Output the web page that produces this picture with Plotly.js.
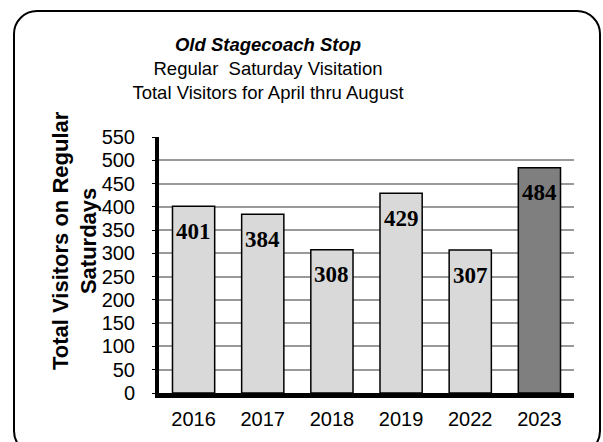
<!DOCTYPE html>
<html>
<head>
<meta charset="utf-8">
<script src="https://cdn.plot.ly/plotly-3.0.1.min.js"></script>
<style>
  html, body { margin: 0; padding: 0; background: #fff; }
  #wrap { position: relative; width: 603px; height: 442px; overflow: hidden; }
  #frame { position: absolute; left: 13px; top: 10px; width: 588px; height: 445px;
           border: 2.5px solid #000; border-radius: 24px; box-sizing: border-box; }
  #chart { position: absolute; left: 0; top: 0; width: 603px; height: 442px; }
</style>
</head>
<body>
<div id="wrap">
  <div id="frame"></div>
  <div id="chart"></div>
</div>
<script>
const categories = ['2016', '2017', '2018', '2019', '2022', '2023'];
const visitors = [401, 384, 308, 429, 307, 484];
const barColors = ['#d9d9d9', '#d9d9d9', '#d9d9d9', '#d9d9d9', '#d9d9d9', '#7f7f7f'];
const yTicks = [0, 50, 100, 150, 200, 250, 300, 350, 400, 450, 500, 550];
const yAxisTitle = '<b>Total Visitors on Regular<br>Saturdays</b>';

const trace = {
  type: 'bar',
  x: categories,
  y: visitors,
  marker: { color: barColors, line: { color: '#000', width: 1.5 } },
  width: 0.61,
  hoverinfo: 'x+y'
};

const annotations = categories.map((c, i) => ({
  x: i, y: visitors[i], xref: 'x', yref: 'y',
  text: String(visitors[i]),
  showarrow: false, yanchor: 'middle', yshift: -25,
  font: { family: 'Liberation Serif, Times New Roman, serif', size: 23, color: '#000', weight: 'bold' }
}));

annotations.push({
  xref: 'paper', yref: 'paper', x: -0.204, y: 0.595,
  xanchor: 'center', yanchor: 'middle',
  text: yAxisTitle, textangle: -90, showarrow: false,
  font: { family: 'Liberation Sans, Arial, sans-serif', size: 22, color: '#000' }
});

const layout = {
  width: 603, height: 442,
  margin: { l: 158.5, r: 29, t: 137, b: 48.5 },
  paper_bgcolor: 'rgba(0,0,0,0)',
  plot_bgcolor: 'rgba(0,0,0,0)',
  showlegend: false,
  bargap: 0.39,
  font: { family: 'Liberation Sans, Arial, sans-serif', size: 20, color: '#000' },
  title: {
    text: '<b><i>Old Stagecoach Stop</i></b><br>Regular  Saturday Visitation<br>Total Visitors for April thru August',
    x: 268 / 603, xanchor: 'center', y: 0.885, yanchor: 'top',
    font: { family: 'Liberation Sans, Arial, sans-serif', size: 18.5, color: '#000' }
  },
  xaxis: {
    type: 'category',
    range: [-0.5, 5.5],
    showgrid: false,
    showline: true, linecolor: '#000', linewidth: 4.5,
    ticks: '', ticklabelstandoff: 4,
    tickfont: { size: 20 },
    zeroline: false, fixedrange: true
  },
  yaxis: {
    range: [0, 550],
    tickvals: yTicks,
    ticktext: yTicks.map(String),
    showgrid: true, gridcolor: '#999999', gridwidth: 2,
    showline: true, linecolor: '#000', linewidth: 4,
    ticks: 'outside', ticklen: 3, tickcolor: '#000', tickwidth: 1,
    ticklabelstandoff: 13,
    tickfont: { size: 20 },
    zeroline: false, fixedrange: true
  },
  annotations: annotations
};

Plotly.newPlot('chart', [trace], layout, { displayModeBar: false, staticPlot: true });
</script>
</body>
</html>
